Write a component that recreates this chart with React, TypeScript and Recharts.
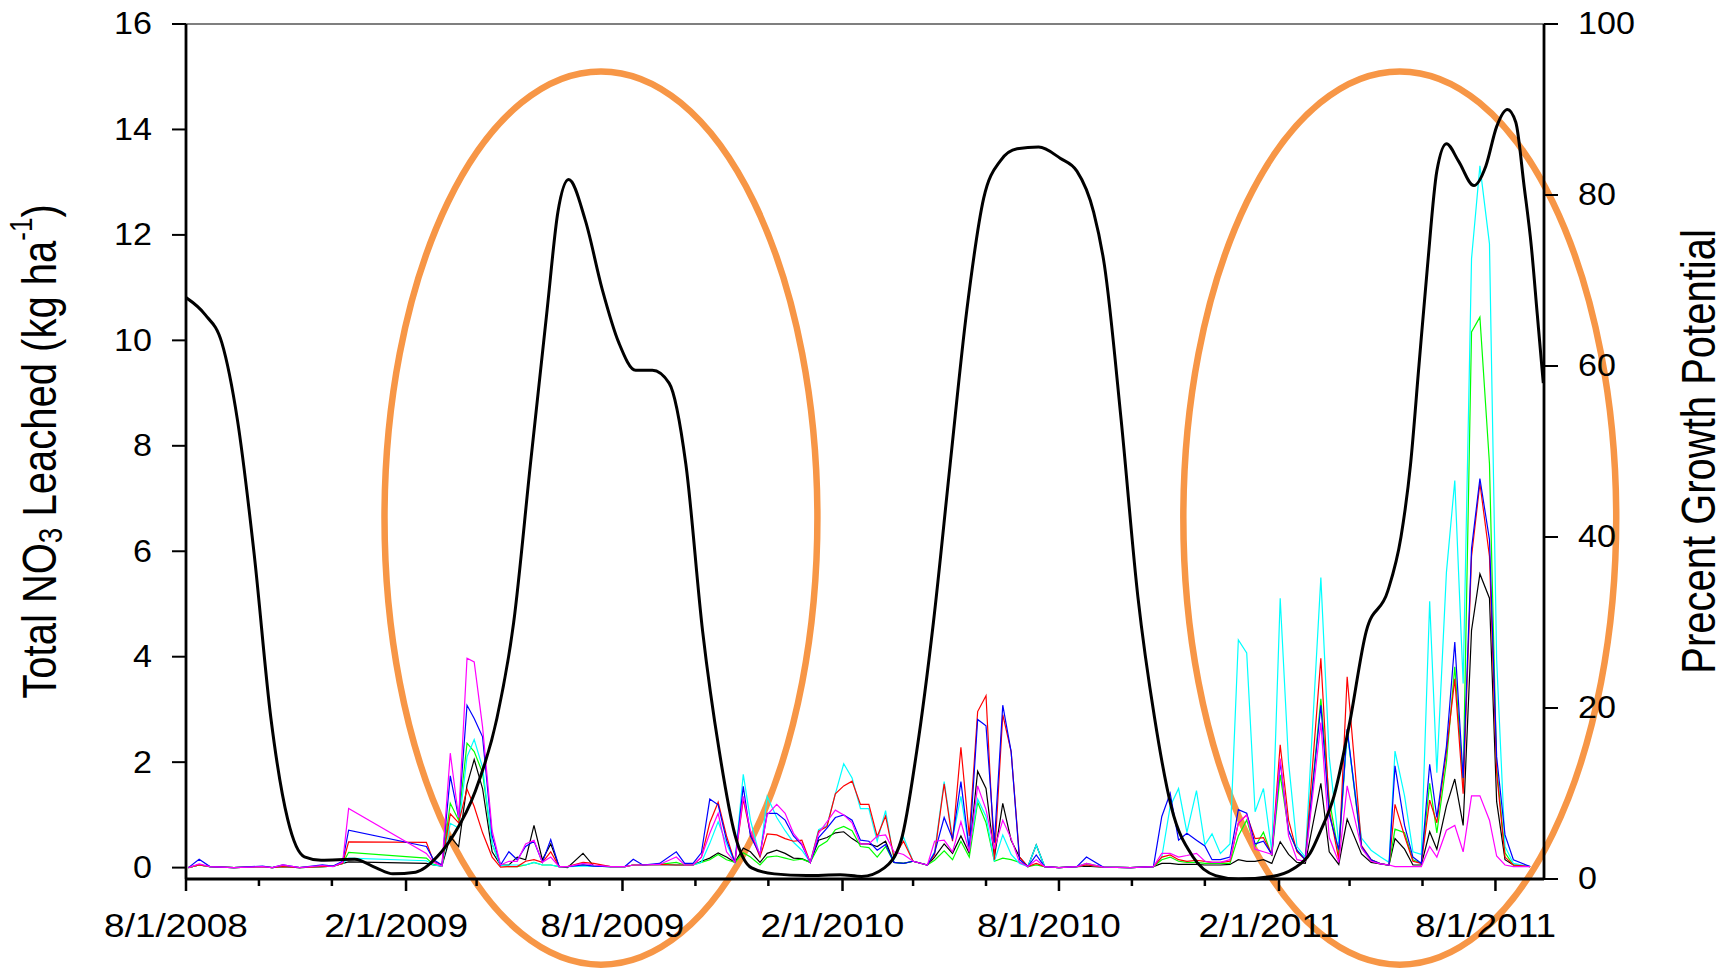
import { LineChart, Line, XAxis, YAxis, ReferenceLine, ReferenceArea } from "recharts";

// sampling dates of the leaching runs
const sampleDates = [
  "2008-08-03", "2008-08-12", "2008-08-21", "2008-09-10", "2008-10-04", "2008-10-12", "2008-10-21", "2008-11-04",
  "2008-11-23", "2008-12-02", "2008-12-10", "2008-12-15", "2009-02-18", "2009-02-24", "2009-03-03", "2009-03-10",
  "2009-03-17", "2009-03-24", "2009-03-30", "2009-04-06", "2009-04-14", "2009-04-21", "2009-04-28", "2009-05-05",
  "2009-05-12", "2009-05-19", "2009-05-26", "2009-06-02", "2009-06-09", "2009-06-16", "2009-06-29", "2009-07-08",
  "2009-07-22", "2009-08-03", "2009-08-10", "2009-08-18", "2009-09-01", "2009-09-15", "2009-09-22", "2009-09-29",
  "2009-10-06", "2009-10-13", "2009-10-20", "2009-10-27", "2009-11-03", "2009-11-10", "2009-11-16", "2009-11-24",
  "2009-11-30", "2009-12-08", "2009-12-15", "2009-12-22", "2009-12-29", "2010-01-05", "2010-01-12", "2010-01-19",
  "2010-01-26", "2010-02-02", "2010-02-09", "2010-02-16", "2010-02-23", "2010-03-02", "2010-03-09", "2010-03-16",
  "2010-03-24", "2010-04-01", "2010-04-13", "2010-04-19", "2010-04-27", "2010-05-04", "2010-05-11", "2010-05-18",
  "2010-05-25", "2010-06-01", "2010-06-08", "2010-06-15", "2010-06-22", "2010-06-29", "2010-07-06", "2010-07-13",
  "2010-07-20", "2010-08-01", "2010-08-16", "2010-08-24", "2010-09-07", "2010-09-30", "2010-10-19", "2010-10-26",
  "2010-11-02", "2010-11-09", "2010-11-16", "2010-11-24", "2010-12-01", "2010-12-07", "2010-12-14", "2010-12-22",
  "2010-12-29", "2011-01-05", "2011-01-12", "2011-01-19", "2011-01-26", "2011-02-02", "2011-02-09", "2011-02-16",
  "2011-02-23", "2011-03-08", "2011-03-15", "2011-03-23", "2011-03-30", "2011-04-11", "2011-04-19", "2011-04-27",
  "2011-05-04", "2011-05-09", "2011-05-17", "2011-05-24", "2011-05-31", "2011-06-07", "2011-06-13", "2011-06-21",
  "2011-06-28", "2011-07-05", "2011-07-12", "2011-07-19", "2011-07-27", "2011-08-02", "2011-08-09", "2011-08-16",
  "2011-08-30",
];

const red = [
  0, 0.05, 0.02, 0, 0.02, 0, 0.02, 0, 0.02, 0.03, 0.08, 0.49, 0.48, 0.12, 0.05, 1.02,
  0.85, 1.49, 1.16, 0.66, 0.2, 0.01, 0.02, 0.02, 0.12, 0.15, 0.1, 0.3, 0.02, 0.02, 0.1, 0.08,
  0.02, 0.02, 0.05, 0.05, 0.06, 0.05, 0.05, 0.05, 0.2, 0.85, 1.24, 0.6, 0.1, 1.3, 0.65, 0.2,
  0.64, 0.62, 0.55, 0.5, 0.52, 0.1, 0.69, 0.78, 1.4, 1.55, 1.64, 1.2, 1.2, 0.59, 0.98, 0.2,
  0.5, 0.12, 0.05, 0.25, 1.59, 0.5, 2.28, 0.6, 2.96, 3.26, 0.15, 2.9, 2.2, 0.2, 0.02, 0.08,
  0.02, 0, 0.02, 0.05, 0.01, 0, 0.02, 0.2, 0.24, 0.15, 0.12, 0.14, 0.12, 0.1, 0.1, 0.12,
  0.84, 1.0, 0.55, 0.57, 0.25, 2.33, 0.9, 0.3, 0.15, 3.97, 1.1, 0.15, 3.62, 0.42, 0.15, 0.07,
  0.05, 1.2, 0.6, 0.12, 0.08, 1.28, 0.85, 2.2, 3.58, 1.4, 5.9, 7.29, 5.9, 1.8, 0.2, 0.05,
  0.02,
];

const green = [
  0, 0.05, 0.02, 0, 0.02, 0, 0.02, 0, 0.02, 0.03, 0.08, 0.29, 0.18, 0.06, 0.03, 1.22,
  0.9, 2.36, 2.2, 1.8, 0.45, 0.04, 0.02, 0.02, 0.05, 0.1, 0.05, 0.05, 0.02, 0.02, 0.05, 0.03,
  0.02, 0.02, 0.05, 0.05, 0.06, 0.1, 0.05, 0.05, 0.1, 0.15, 0.25, 0.15, 0.1, 0.28, 0.2, 0.05,
  0.2, 0.22, 0.18, 0.14, 0.16, 0.1, 0.4, 0.5, 0.72, 0.78, 0.7, 0.4, 0.38, 0.2, 0.4, 0.1,
  0.08, 0.12, 0.05, 0.14, 0.32, 0.15, 0.5, 0.2, 1.24, 0.85, 0.12, 0.18, 0.15, 0.1, 0.02, 0.05,
  0.02, 0, 0.02, 0.08, 0.01, 0, 0.02, 0.15, 0.2, 0.12, 0.1, 0.1, 0.08, 0.08, 0.08, 0.08,
  0.6, 0.9, 0.4, 0.67, 0.22, 1.76, 0.7, 0.33, 0.15, 3.2, 1.3, 0.25, 2.6, 0.37, 0.15, 0.07,
  0.05, 0.73, 0.66, 0.15, 0.08, 1.6, 0.66, 2.0, 3.81, 1.6, 10.16, 10.44, 7.66, 1.9, 0.28, 0.05,
  0.02,
];

const blue = [
  0, 0.16, 0.02, 0, 0.03, 0, 0.05, 0, 0.05, 0.03, 0.12, 0.71, 0.4, 0.15, 0.05, 1.74,
  0.95, 3.08, 2.83, 2.48, 0.6, 0.05, 0.3, 0.15, 0.4, 0.5, 0.1, 0.53, 0.02, 0.02, 0.05, 0.03,
  0.02, 0.02, 0.16, 0.05, 0.08, 0.3, 0.08, 0.08, 0.28, 1.3, 1.19, 0.52, 0.1, 1.54, 0.6, 0.25,
  1.03, 1.03, 0.9, 0.6, 0.43, 0.1, 0.57, 0.75, 0.95, 1.0, 0.9, 0.52, 0.5, 0.33, 0.44, 0.1,
  0.08, 0.12, 0.05, 0.28, 0.95, 0.55, 1.63, 0.35, 2.81, 2.69, 0.47, 3.08, 2.2, 0.15, 0.02, 0.24,
  0.02, 0, 0.02, 0.2, 0.01, 0, 0.02, 0.97, 1.41, 0.52, 0.65, 0.52, 0.41, 0.15, 0.15, 0.2,
  1.1, 1.03, 0.45, 0.5, 0.25, 2.0, 0.7, 0.33, 0.15, 3.08, 1.0, 0.34, 2.63, 0.4, 0.15, 0.07,
  0.05, 1.93, 0.8, 0.2, 0.08, 1.96, 0.95, 2.3, 4.28, 1.7, 6.05, 7.38, 6.22, 2.1, 0.62, 0.15,
  0.02,
];

const cyan = [
  0, 0.05, 0.02, 0, 0.02, 0, 0.02, 0, 0.02, 0.03, 0.08, 0.18, 0.13, 0.05, 0.03, 0.84,
  0.75, 2.1, 2.43, 1.9, 0.45, 0.04, 0.05, 0.05, 0.05, 0.1, 0.05, 0.05, 0.02, 0.02, 0.03, 0.03,
  0.02, 0.02, 0.05, 0.05, 0.06, 0.05, 0.05, 0.05, 0.1, 0.46, 0.87, 0.45, 0.1, 1.77, 0.9, 0.2,
  1.35, 0.95, 0.7, 0.48, 0.33, 0.1, 0.72, 0.8, 1.4, 1.97, 1.7, 1.12, 1.12, 0.5, 1.08, 0.15,
  0.58, 0.12, 0.05, 0.3, 1.63, 0.55, 1.35, 0.35, 1.3, 0.97, 0.12, 0.62, 0.25, 0.08, 0.02, 0.43,
  0.02, 0, 0.02, 0.05, 0.01, 0, 0.02, 0.2, 1.16, 1.5, 0.67, 1.46, 0.43, 0.64, 0.27, 0.45,
  4.32, 4.07, 1.06, 1.5, 0.3, 5.11, 2.0, 0.4, 0.2, 5.5, 2.1, 0.45, 2.55, 0.56, 0.33, 0.2,
  0.1, 2.21, 1.36, 0.3, 0.25, 5.05, 1.8, 5.6, 7.34, 3.49, 11.55, 13.31, 11.83, 3.95, 0.4, 0.08,
  0.02,
];

const magenta = [
  0, 0.07, 0.02, 0, 0.02, 0, 0.05, 0, 0.04, 0.02, 0.1, 1.12, 0.27, 0.1, 0.03, 2.17,
  0.95, 3.97, 3.9, 2.67, 0.7, 0.05, 0.12, 0.12, 0.45, 0.52, 0.1, 0.2, 0.02, 0.02, 0.08, 0.05,
  0.02, 0.02, 0.05, 0.05, 0.06, 0.2, 0.05, 0.05, 0.2, 0.65, 1.03, 0.3, 0.1, 1.35, 0.7, 0.25,
  1.0, 1.2, 1.03, 0.65, 0.45, 0.1, 0.65, 0.87, 1.09, 1.0, 0.85, 0.45, 0.45, 0.6, 0.62, 0.3,
  0.25, 0.12, 0.05, 0.5, 0.52, 0.3, 0.87, 0.3, 1.55, 1.1, 0.35, 0.9, 0.55, 0.1, 0.02, 0.15,
  0.02, 0, 0.02, 0.08, 0.01, 0, 0.02, 0.27, 0.27, 0.2, 0.23, 0.27, 0.12, 0.1, 0.1, 0.15,
  0.85, 1.0, 0.35, 0.3, 0.25, 2.07, 0.6, 0.15, 0.12, 2.75, 0.57, 0.1, 1.55, 0.37, 0.12, 0.07,
  0.05, 0.02, 0.02, 0.02, 0.02, 0.4, 0.2, 0.71, 0.8, 0.3, 1.36, 1.36, 0.9, 0.22, 0.05, 0.02,
  0.02,
];

const black = [
  0, 0.05, 0.02, 0, 0.02, 0, 0.02, 0, 0.02, 0.03, 0.08, 0.11, 0.08, 0.05, 0.03, 0.59,
  0.4, 1.57, 2.05, 1.5, 0.3, 0.05, 0.05, 0.2, 0.15, 0.8, 0.15, 0.45, 0.02, 0, 0.27, 0.03,
  0.02, 0.02, 0.05, 0.05, 0.06, 0.05, 0.05, 0.05, 0.12, 0.18, 0.28, 0.2, 0.1, 0.37, 0.3, 0.1,
  0.27, 0.33, 0.27, 0.18, 0.17, 0.1, 0.52, 0.57, 0.66, 0.68, 0.55, 0.45, 0.45, 0.4, 0.5, 0.1,
  0.08, 0.12, 0.05, 0.2, 0.45, 0.27, 0.6, 0.27, 1.83, 1.5, 0.2, 1.22, 0.52, 0.2, 0.02, 0.43,
  0.02, 0, 0.02, 0.03, 0.01, 0, 0.02, 0.08, 0.08, 0.06, 0.06, 0.06, 0.05, 0.05, 0.05, 0.06,
  0.15, 0.12, 0.12, 0.15, 0.08, 0.49, 0.25, 0.1, 0.08, 1.6, 0.3, 0.06, 0.92, 0.26, 0.1, 0.07,
  0.05, 0.55, 0.35, 0.05, 0.05, 0.68, 0.35, 1.17, 1.68, 0.8, 4.5, 5.57, 5.11, 1.25, 0.15, 0.05,
  0.02,
];

// percent growth potential (right axis)
const growthDates = [
  "2008-08-01", "2008-08-17", "2008-08-31", "2008-09-13", "2008-09-27", "2008-10-11", "2008-10-25", "2008-11-08",
  "2008-11-22", "2008-12-20", "2009-01-07", "2009-01-21", "2009-02-09", "2009-02-27", "2009-03-13", "2009-03-31",
  "2009-04-18", "2009-05-02", "2009-05-16", "2009-05-30", "2009-06-08", "2009-06-17", "2009-07-01", "2009-07-15",
  "2009-07-29", "2009-08-12", "2009-08-26", "2009-09-09", "2009-09-23", "2009-10-07", "2009-10-21", "2009-11-03",
  "2009-11-17", "2009-12-06", "2010-01-02", "2010-01-30", "2010-02-17", "2010-03-08", "2010-03-22", "2010-04-04",
  "2010-04-18", "2010-05-02", "2010-05-16", "2010-05-30", "2010-06-13", "2010-06-27", "2010-07-15", "2010-08-02",
  "2010-08-16", "2010-08-30", "2010-09-08", "2010-09-22", "2010-10-06", "2010-10-20", "2010-11-03", "2010-11-21",
  "2010-12-10", "2010-12-29", "2011-01-26", "2011-02-13", "2011-02-27", "2011-03-08", "2011-03-19", "2011-04-01",
  "2011-04-15", "2011-05-03", "2011-05-14", "2011-05-22", "2011-05-29", "2011-06-05", "2011-06-13", "2011-06-21",
  "2011-07-01", "2011-07-14", "2011-07-24", "2011-08-02", "2011-08-11", "2011-08-18", "2011-08-25", "2011-08-31",
  "2011-09-05", "2011-09-10",
];
const growthPct = [
  68, 66, 62.7, 53.7, 38, 18.8, 7, 2.6,
  2.2, 2.3, 1.3, 0.6, 0.8, 2.6, 5.2, 10.3,
  18.8, 30, 48.5, 66.6, 78, 81.8, 77, 69,
  62.7, 59.5, 59.5, 58, 48.5, 29, 14.9, 5.2,
  1.3, 0.6, 0.4, 0.5, 0.3, 1.3, 4.5, 14.9,
  30, 48.5, 66.6, 79.6, 84, 85.4, 85.6, 84.3,
  82.8, 78, 71.8, 53.7, 33, 18.8, 8.4, 2.6,
  0.4, 0, 0.3, 1.2, 3, 5.7, 9.7, 18.2,
  29, 33.7, 40, 48.5, 60, 71.4, 82.8, 86,
  84, 81.1, 83.4, 88, 90, 88.5, 81, 74,
  66, 58,
];

const xTickDates = [
  "2008-08-01", "2008-10-01", "2008-12-01", "2009-02-01", "2009-04-01", "2009-06-01", "2009-08-01",
  "2009-10-01", "2009-12-01", "2010-02-01", "2010-04-01", "2010-06-01", "2010-08-01", "2010-10-01",
  "2010-12-01", "2011-02-01", "2011-04-01", "2011-06-01", "2011-08-01",
];
const xTickLabels = [
  "8/1/2008", "", "", "2/1/2009", "", "", "8/1/2009",
  "", "", "2/1/2010", "", "", "8/1/2010", "",
  "", "2/1/2011", "", "", "8/1/2011",
];
const leftTicks = [0, 2, 4, 6, 8, 10, 12, 14, 16];
const rightTicks = [0, 20, 40, 60, 80, 100];

// the two hand-drawn highlight ellipses
const highlightStarts = ["2009-01-14", "2010-11-13"];
const highlightSpanDays = 362;

const FONT = "'Liberation Sans', Arial, Helvetica, sans-serif";
const START = Date.UTC(2008, 7, 1);
const toDay = (s: string) => {
  const [y, m, d] = s.split("-").map(Number);
  return (Date.UTC(y, m - 1, d) - START) / 86400000;
};

const leachRows = sampleDates.map((s, i) => ({
  day: toDay(s),
  red: red[i],
  green: green[i],
  blue: blue[i],
  cyan: cyan[i],
  magenta: magenta[i],
  black: black[i],
}));
const growthRows = growthDates.map((s, i) => ({ day: toDay(s), pct: growthPct[i] }));
const xTickDays = xTickDates.map(toDay);

function XTick(props: any) {
  const { x, y, payload } = props;
  const label = xTickLabels[xTickDays.indexOf(payload.value)] || "";
  const major = label !== "";
  return (
    <g>
      <line x1={x} x2={x} y1={y} y2={y + (major ? 12 : 7)} stroke="#000" strokeWidth={2.5} />
      {major && (
        <text
          transform={`translate(${x - 10},${y + 46}) scale(1.12,1)`}
          textAnchor="middle"
          dominantBaseline="central"
          fontSize={33}
          fontFamily={FONT}
          fill="#000"
        >
          {label}
        </text>
      )}
    </g>
  );
}

function LeftTick(props: any) {
  const { x, y, payload } = props;
  return (
    <text
      transform={`translate(${x},${y}) scale(1.1,1)`}
      textAnchor="end"
      dominantBaseline="central"
      fontSize={31}
      fontFamily={FONT}
      fill="#000"
    >
      {payload.value}
    </text>
  );
}

function RightTick(props: any) {
  const { x, y, payload } = props;
  return (
    <text
      transform={`translate(${x},${y}) scale(1.1,1)`}
      textAnchor="start"
      dominantBaseline="central"
      fontSize={31}
      fontFamily={FONT}
      fill="#000"
    >
      {payload.value}
    </text>
  );
}

function LeftTitle(props: any) {
  const vb = props.viewBox || { x: 0, y: 24, width: 186, height: 855 };
  const cx = vb.x + 39;
  const cy = vb.y + vb.height / 2;
  return (
    <text
      transform={`translate(${cx},${cy}) rotate(-90) scale(1,1.2)`}
      textAnchor="middle"
      dominantBaseline="central"
      fontSize={40}
      fontFamily={FONT}
      fill="#000"
    >
      <tspan>Total NO</tspan>
      <tspan fontSize={28} dy={9}>3</tspan>
      <tspan dy={-9}> Leached (kg ha</tspan>
      <tspan fontSize={26} dy={-15}>-1</tspan>
      <tspan dy={15}>)</tspan>
    </text>
  );
}

function RightTitle(props: any) {
  const vb = props.viewBox || { x: 1544, y: 24, width: 189, height: 855 };
  const cx = vb.x + 154;
  const cy = vb.y + vb.height / 2;
  return (
    <text
      transform={`translate(${cx},${cy}) rotate(-90) scale(1,1.2)`}
      textAnchor="middle"
      dominantBaseline="central"
      fontSize={40}
      fontFamily={FONT}
      fill="#000"
    >
      Precent Growth Potential
    </text>
  );
}

function Ellipse(props: any) {
  const { x, y, width, height } = props;
  return (
    <ellipse
      cx={x + width / 2}
      cy={y + height / 2}
      rx={Math.abs(width) / 2}
      ry={Math.abs(height) / 2}
      fill="none"
      stroke="#F79646"
      strokeWidth={6.5}
    />
  );
}

const thinSeries = [
  { key: "black", color: "#000000" },
  { key: "green", color: "#00FF00" },
  { key: "cyan", color: "#00FFFF" },
  { key: "red", color: "#FF0000" },
  { key: "blue", color: "#0000FF" },
  { key: "magenta", color: "#FF00FF" },
];

export default function App() {
  return (
    <div style={{ position: "absolute", left: 0, top: 0, width: 1733, height: 969, background: "#fff" }}>
      <LineChart width={1733} height={969} margin={{ top: 24, right: 0, bottom: 0, left: 0 }}>
        <XAxis
          dataKey="day"
          type="number"
          domain={[0, 1135.6]}
          allowDataOverflow
          ticks={xTickDays}
          interval={0}
          tick={<XTick />}
          tickLine={false}
          tickSize={0}
          tickMargin={0}
          height={90}
          axisLine={{ stroke: "#000", strokeWidth: 2.8 }}
        />
        <YAxis
          yAxisId="left"
          width={186}
          domain={[-0.216, 16]}
          allowDataOverflow
          ticks={leftTicks}
          interval={0}
          tick={<LeftTick />}
          tickSize={14}
          tickMargin={20}
          tickLine={{ stroke: "#000", strokeWidth: 2 }}
          axisLine={{ stroke: "#000", strokeWidth: 2.8 }}
          label={<LeftTitle />}
        />
        <YAxis
          yAxisId="right"
          orientation="right"
          width={189}
          domain={[0, 100]}
          allowDataOverflow
          ticks={rightTicks}
          interval={0}
          tick={<RightTick />}
          tickSize={14}
          tickMargin={20}
          tickLine={{ stroke: "#000", strokeWidth: 2 }}
          axisLine={{ stroke: "#000", strokeWidth: 2.8 }}
          label={<RightTitle />}
        />
        <ReferenceLine yAxisId="left" y={16} stroke="#000" strokeWidth={1.2} />
        {thinSeries.map((s) => (
          <Line
            key={s.key}
            data={leachRows}
            dataKey={s.key}
            yAxisId="left"
            type="linear"
            stroke={s.color}
            strokeWidth={1.2}
            dot={false}
            activeDot={false}
            isAnimationActive={false}
          />
        ))}
        <Line
          data={growthRows}
          dataKey="pct"
          yAxisId="right"
          type="monotone"
          stroke="#000"
          strokeWidth={3}
          dot={false}
          activeDot={false}
          isAnimationActive={false}
        />
        {highlightStarts.map((s) => (
          <ReferenceArea
            key={s}
            yAxisId="left"
            x1={toDay(s)}
            x2={toDay(s) + highlightSpanDays}
            y1={-1.84}
            y2={15.1}
            ifOverflow="visible"
            shape={<Ellipse />}
          />
        ))}
      </LineChart>
    </div>
  );
}
